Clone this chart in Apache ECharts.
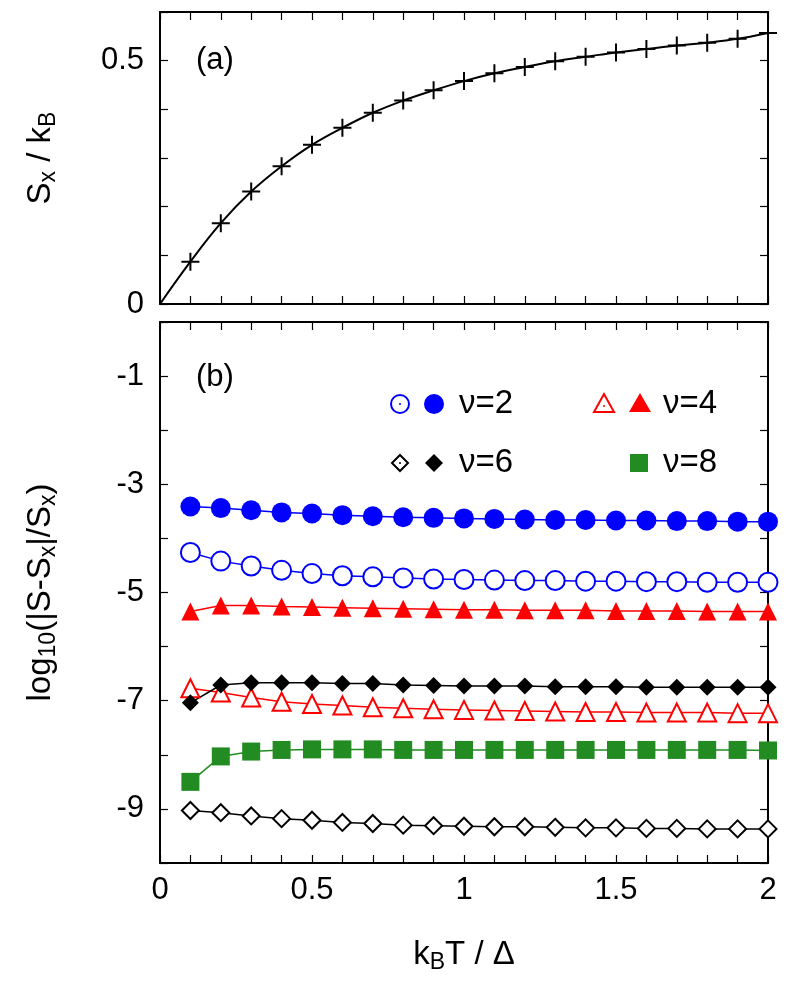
<!DOCTYPE html>
<html>
<head>
<meta charset="utf-8">
<script src="https://cdn.jsdelivr.net/npm/echarts@6/dist/echarts.min.js"></script>
<style>
  html, body { margin: 0; padding: 0; background: #fff; }
  #chart { width: 789px; height: 983px; }
</style>
</head>
<body>
<div id="chart"></div>
<script>
var temps = [0.1, 0.2, 0.3, 0.4, 0.5, 0.6, 0.7, 0.8, 0.9, 1.0, 1.1, 1.2, 1.3, 1.4, 1.5, 1.6, 1.7, 1.8, 1.9, 2.0];
var entropyX = [0.087, 0.166, 0.231, 0.283, 0.327, 0.362, 0.393, 0.418, 0.439, 0.458, 0.474, 0.487, 0.499, 0.508, 0.517, 0.524, 0.531, 0.537, 0.545, 0.557];
var nu2Filled = [-3.41, -3.44, -3.48, -3.52, -3.54, -3.57, -3.59, -3.61, -3.62, -3.63, -3.64, -3.65, -3.66, -3.66, -3.67, -3.67, -3.68, -3.68, -3.69, -3.69];
var nu2Open = [-4.26, -4.42, -4.51, -4.59, -4.65, -4.69, -4.71, -4.73, -4.75, -4.76, -4.77, -4.78, -4.78, -4.79, -4.79, -4.80, -4.80, -4.81, -4.81, -4.81];
var nu4Filled = [-5.35, -5.24, -5.24, -5.26, -5.27, -5.28, -5.29, -5.30, -5.31, -5.32, -5.32, -5.33, -5.33, -5.33, -5.34, -5.34, -5.34, -5.35, -5.35, -5.35];
var nu4Open = [-6.77, -6.85, -6.94, -7.02, -7.06, -7.09, -7.12, -7.14, -7.16, -7.17, -7.18, -7.19, -7.20, -7.21, -7.21, -7.22, -7.22, -7.22, -7.23, -7.23];
var nu6Filled = [-7.04, -6.71, -6.67, -6.67, -6.67, -6.68, -6.68, -6.71, -6.72, -6.73, -6.73, -6.73, -6.74, -6.74, -6.74, -6.75, -6.75, -6.75, -6.75, -6.75];
var nu6Open = [-9.03, -9.07, -9.13, -9.18, -9.21, -9.25, -9.27, -9.30, -9.31, -9.32, -9.33, -9.33, -9.34, -9.35, -9.35, -9.36, -9.36, -9.37, -9.37, -9.37];
var nu8Filled = [-8.50, -8.03, -7.94, -7.91, -7.90, -7.90, -7.90, -7.91, -7.91, -7.91, -7.91, -7.91, -7.91, -7.91, -7.91, -7.91, -7.91, -7.91, -7.91, -7.92];
var xLabels = ['0', '0.5', '1', '1.5', '2'];

function pairs(ys) {
  return temps.map(function (t, i) { return [t, ys[i]]; });
}

var chart = echarts.init(document.getElementById('chart'));
var font = 'Liberation Sans';
var BLUE = '#0000ff', RED = '#ff0000', GREEN = '#228b22', BLACK = '#000';
var nameRich = {
  a: { fontFamily: font, fontSize: 33, color: '#000' },
  s: { fontFamily: font, fontSize: 23, color: '#000', verticalAlign: 'bottom', padding: [16, 0, 0, 0] }
};

function xAxisFor(grid, labels, pos) {
  return {
    type: 'value', gridIndex: grid, min: 0, max: 2, interval: 0.1, position: pos,
    axisLine: { onZero: false, lineStyle: { color: '#000', width: 2 } },
    axisTick: { inside: true, length: 8, lineStyle: { color: '#000', width: 1.2 } },
    splitLine: { show: false },
    axisLabel: {
      show: labels, fontFamily: font, fontSize: 31, color: '#000', margin: 12,
      formatter: function (v) {
        var r = Math.round(v * 10);
        return r % 5 === 0 ? xLabels[r / 5] : '';
      }
    }
  };
}

function yAxisFor(grid, min, max, pos, labels, fmt) {
  return {
    type: 'value', gridIndex: grid, min: min, max: max, interval: max > 1 ? 1 : 0.1, position: pos,
    axisLine: { show: true, onZero: false, lineStyle: { color: '#000', width: 2 } },
    axisTick: { inside: true, length: 8, lineStyle: { color: '#000', width: 1.2 } },
    splitLine: { show: false },
    axisLabel: { show: labels, fontFamily: font, fontSize: 31, color: '#000', margin: 16, formatter: fmt }
  };
}

var crossSymbol = 'path://M0,10L20,10M10,0L10,20';
var topLine = [[0, 0]].concat(pairs(entropyX));

function lineSeries(name, ys, color, symbol, size, empty) {
  return {
    name: name, type: 'line', xAxisIndex: 2, yAxisIndex: 2, data: pairs(ys),
    symbol: symbol, symbolSize: size, showAllSymbol: true,
    lineStyle: { color: color, width: 1.5 },
    itemStyle: { color: empty ? '#fff' : color, borderColor: color, borderWidth: empty ? 2 : 0 },
    z: 3
  };
}

var topY = yAxisFor(0, 0, 0.6, 'left', true, function (v) {
  var r = Math.round(v * 10); return r === 0 ? '0' : (r === 5 ? '0.5' : '');
});
topY.interval = 0.1;
topY.name = '{a|S}{s|x}{a| / k}{s|B}';
topY.nameLocation = 'middle'; topY.nameGap = 100; topY.nameRotate = 90;
topY.nameTextStyle = { rich: nameRich };
var topY2 = yAxisFor(0, 0, 0.6, 'right', false);
topY2.interval = 0.1;

var botY = yAxisFor(1, -10, 0, 'left', true, function (v) {
  return Math.abs(v) % 2 === 1 ? String(v) : '';
});
botY.interval = 1;
botY.name = '{a|log}{s|10}{a|(|S-S}{s|x}{a||/S}{s|x}{a|)}';
botY.nameLocation = 'middle'; botY.nameGap = 100; botY.nameRotate = 90;
botY.nameTextStyle = { rich: nameRich };
var botY2 = yAxisFor(1, -10, 0, 'right', false);
botY2.interval = 1;

var botX = xAxisFor(1, true, 'bottom');
botX.name = '{a|k}{s|B}{a|T / Δ}';
botX.nameLocation = 'middle'; botX.nameGap = 72;
botX.nameTextStyle = { rich: nameRich };

var option = {
  backgroundColor: '#fff',
  animation: false,
  grid: [
    { left: 160, right: 21, top: 12, height: 292 },
    { left: 160, right: 21, top: 322, bottom: 120 }
  ],
  xAxis: [xAxisFor(0, false, 'bottom'), xAxisFor(0, false, 'top'), botX, xAxisFor(1, false, 'top')],
  yAxis: [topY, topY2, botY, botY2],
  graphic: [
    { type: 'text', left: 196, top: 45, style: { text: '(a)', font: '31px "Liberation Sans"', fill: '#000' } },
    { type: 'text', left: 196, top: 362, style: { text: '(b)', font: '31px "Liberation Sans"', fill: '#000' } },
    // legend row 1
    { type: 'circle', shape: { cx: 400, cy: 404, r: 9 }, style: { fill: '#fff', stroke: BLUE, lineWidth: 2 } },
    { type: 'circle', shape: { cx: 400, cy: 404, r: 1 }, style: { fill: BLUE } },
    { type: 'circle', shape: { cx: 434, cy: 404, r: 10 }, style: { fill: BLUE } },
    { type: 'text', x: 459, y: 404, style: { text: 'ν=2', font: '33px "Liberation Sans"', fill: '#000', verticalAlign: 'middle' } },
    { type: 'polygon', shape: { points: [[604, 394], [594, 412], [614, 412]] }, style: { fill: '#fff', stroke: RED, lineWidth: 2 } },
    { type: 'circle', shape: { cx: 604, cy: 406, r: 1 }, style: { fill: RED } },
    { type: 'polygon', shape: { points: [[640, 393], [629, 412], [651, 412]] }, style: { fill: RED } },
    { type: 'text', x: 663, y: 404, style: { text: 'ν=4', font: '33px "Liberation Sans"', fill: '#000', verticalAlign: 'middle' } },
    // legend row 2
    { type: 'polygon', shape: { points: [[400, 455], [408, 463], [400, 471], [392, 463]] }, style: { fill: '#fff', stroke: BLACK, lineWidth: 2 } },
    { type: 'circle', shape: { cx: 400, cy: 463, r: 1 }, style: { fill: BLACK } },
    { type: 'polygon', shape: { points: [[434, 454], [443, 463], [434, 472], [425, 463]] }, style: { fill: BLACK } },
    { type: 'text', x: 459, y: 463, style: { text: 'ν=6', font: '33px "Liberation Sans"', fill: '#000', verticalAlign: 'middle' } },
    { type: 'rect', shape: { x: 630, y: 454, width: 18, height: 18 }, style: { fill: GREEN } },
    { type: 'text', x: 663, y: 463, style: { text: 'ν=8', font: '33px "Liberation Sans"', fill: '#000', verticalAlign: 'middle' } }
  ],
  series: [
    {
      name: 'Sx', type: 'line', xAxisIndex: 0, yAxisIndex: 0, smooth: 0.4,
      data: topLine.map(function (p, i) { return i === 0 ? { value: p, symbol: 'none' } : p; }),
      symbol: crossSymbol, symbolSize: 18, showAllSymbol: true,
      lineStyle: { color: '#000', width: 2 },
      itemStyle: { color: 'none', borderColor: '#000', borderWidth: 2 }
    },
    lineSeries('nu2 open', nu2Open, BLUE, 'circle', 19, true),
    lineSeries('nu2 filled', nu2Filled, BLUE, 'circle', 20, false),
    lineSeries('nu4 open', nu4Open, RED, 'triangle', 18, true),
    lineSeries('nu4 filled', nu4Filled, RED, 'triangle', 18, false),
    lineSeries('nu6 open', nu6Open, BLACK, 'diamond', 17, true),
    lineSeries('nu6 filled', nu6Filled, BLACK, 'diamond', 17, false),
    lineSeries('nu8 filled', nu8Filled, GREEN, 'rect', 18, false)
  ]
};
chart.setOption(option);
window.addEventListener('resize', chart.resize);
</script>
</body>
</html>
